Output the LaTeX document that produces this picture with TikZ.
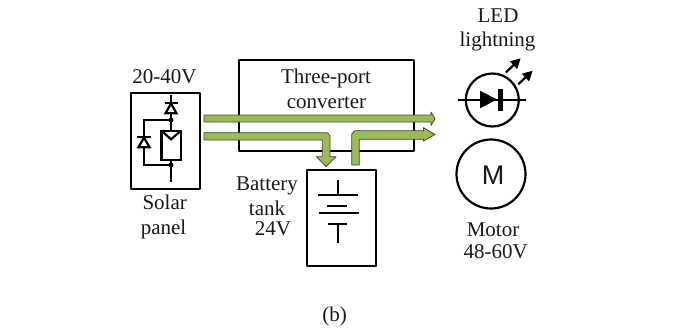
\documentclass[tikz,border=0pt]{standalone}
\usepackage{fontspec}
\setmainfont{Liberation Serif}
\newfontfamily\msans{Liberation Sans}
\usetikzlibrary{arrows.meta}
\definecolor{flowgreen}{HTML}{9BBB59}
\definecolor{flowedge}{HTML}{3F4F22}
\tikzset{
  x=1pt,y=-1pt,
  box/.style={draw=black,line width=2.2pt,line join=round,inner sep=0pt,anchor=north west},
  lab/.style={inner sep=0pt,anchor=base,font=\fontsize{21}{24}\selectfont,text=black!90},
  flow/.style={fill=flowgreen,draw=flowedge,line width=0.8pt,line join=round},
  wire/.style={draw=black,line width=2.2pt},
  sym/.style={draw=black,line width=2.2pt,line join=miter},
  ray/.style={draw=black,line width=2.2pt,-{Triangle[length=10pt,width=10pt]}},
}
\begin{document}
\begin{tikzpicture}
\useasboundingbox (0,0) rectangle (678,333);
% boxes
\node[box,minimum width=69pt,minimum height=96pt] (solar) at (130,92) {};
\node[box,minimum width=174.5pt,minimum height=90.5pt] (conv) at (238,59) {};
\node[box,minimum width=68.5pt,minimum height=96pt] (batt) at (306,169) {};
% solar panel symbol
\coordinate (st) at (171,95);
\coordinate (sb) at (171,181.5);
\draw[wire] (st) -- (sb);
\draw[sym,fill=white] (165.5,113.3) -- (176.5,113.3) -- (171,103.5) -- cycle;
\draw[wire] (164.5,102.8) -- (177.5,102.8);
\coordinate (j1) at (171,120);
\coordinate (j2) at (171,165);
\draw[wire] (j1) -- (143.7,120) -- (143.7,165) -- (j2);
\fill (j1) circle (2.5);
\fill (j2) circle (2.5);
\draw[sym,fill=white] (161.5,130.7) rectangle (181,160.3);
\draw[sym] (161.5,130.7) -- (171,139.3) -- (181,130.7);
\draw[sym,fill=white] (138.5,147.3) -- (149.5,147.3) -- (144,137.5) -- cycle;
\draw[wire] (137.3,137.3) -- (150.5,137.3);
% flows
\draw[flow] (204,115) -- (431,115) -- (431,112) -- (435,118.7) -- (431,125.5) -- (431,122) -- (204,122) -- cycle;
\draw[flow] (204,132.7) -- (327,132.7) to[out=0,in=-90] (330,135.7) -- (330,156.7) -- (336,156.7) -- (326,166.5) -- (316.5,156.7) -- (322.3,156.7) -- (322.3,140) -- (204,140) -- cycle;
\draw[flow] (351.7,165) -- (351.7,134) to[out=-90,in=180] (355,130.7) -- (423.5,130.7) -- (423.5,127.7) -- (435,134.5) -- (423.5,141) -- (423.5,139.3) -- (359.3,139.3) -- (359.3,165) -- cycle;
% battery symbol
\draw[wire] (338.3,180) -- (338.3,195);
\draw[wire] (318.3,195) -- (357.7,195);
\draw[wire] (327,206) -- (346.7,206);
\draw[wire] (319,212.7) -- (358.7,212.7);
\draw[wire] (328,224) -- (347,224);
\draw[wire] (338.3,224) -- (338.3,243);
% LED
\node[draw=black,line width=2.2pt,circle,minimum size=53pt,inner sep=0pt] (led) at (492.3,100) {};
\coordinate (lw) at (458,100);
\coordinate (le) at (525.7,100);
\draw[wire] (lw) -- (le);
\fill (480,90.7) -- (497,99.5) -- (480,108.3) -- cycle;
\fill (498.3,89.3) rectangle (503.3,110.7);
\coordinate (r1a) at (506,72.3);
\coordinate (r1b) at (520.7,58.3);
\coordinate (r2a) at (518.3,84.3);
\coordinate (r2b) at (532.7,70.7);
\draw[ray] (r1a) -- (r1b);
\draw[ray] (r2a) -- (r2b);
% motor
\node[draw=black,line width=2.2pt,circle,minimum size=69pt,inner sep=0pt] (motor) at (491,174) {};
\node[inner sep=0pt,font=\msans\fontsize{27}{30}\selectfont,text=black!90] (mlab) at (493,175.5) {M};
% labels
\node[lab] (l1) at (164.5,83.5) {20-40V};
\node[lab] (l2) at (164.7,209.3) {Solar};
\node[lab] (l3) at (163.5,234) {panel};
\node[lab] (l4) at (498,22.7) {LED};
\node[lab] (l5) at (497.5,46) {lightning};
\node[lab] (l6) at (326,83) {Three-port};
\node[lab] (l7) at (326.5,108.5) {converter};
\node[lab] (l8) at (267,190.5) {Battery};
\node[lab] (l9) at (267,215.5) {tank};
\node[lab] (l10) at (273,235) {24V};
\node[lab] (l11) at (493,236) {Motor};
\node[lab] (l12) at (495.7,258) {48-60V};
\node[lab] (l13) at (334.5,321) {(b)};
\end{tikzpicture}
\end{document}
